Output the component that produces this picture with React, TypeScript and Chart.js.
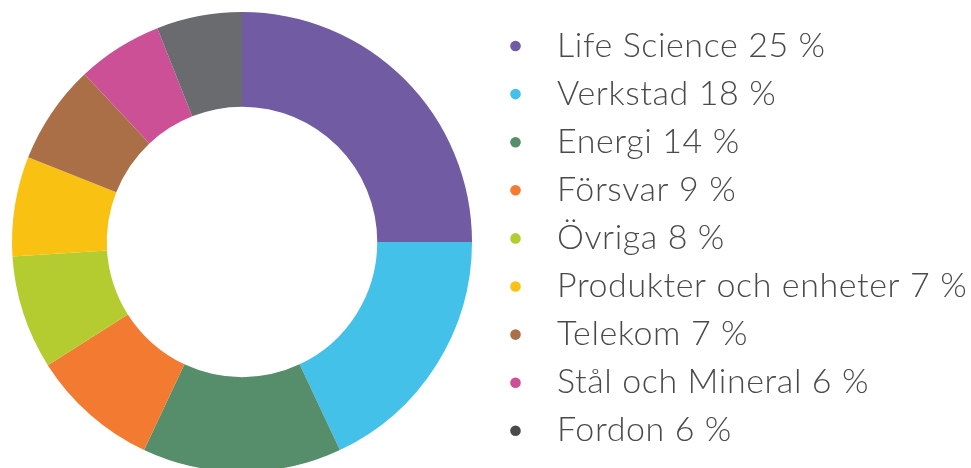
import React, { useEffect, useRef } from "react";
import { Chart, registerables } from "chart.js";

Chart.register(...registerables);

const categories = [
  "Life Science",
  "Verkstad",
  "Energi",
  "Försvar",
  "Övriga",
  "Produkter och enheter",
  "Telekom",
  "Stål och Mineral",
  "Fordon",
];
const shares = [25, 18, 14, 9, 8, 7, 7, 6, 6];
const sliceColors = [
  "#715ba3",
  "#43c1e9",
  "#568d6a",
  "#f27a31",
  "#b5cc31",
  "#f9c112",
  "#ab6f47",
  "#cb5096",
  "#6a6b6f",
];
const dotColors = [
  "#715ba3",
  "#43c1e9",
  "#568d6a",
  "#f27a31",
  "#b5cc31",
  "#f9c112",
  "#ab6f47",
  "#cb5096",
  "#4a4a4a",
];

const legendPlugin = {
  id: "sideLegend",
  afterDraw(chart: any) {
    const ctx = chart.ctx;
    const labels = chart.data.labels as string[];
    const values = chart.data.datasets[0].data as number[];
    ctx.save();
    ctx.font = '300 34px Lato, "Noto Sans", sans-serif';
    try {
      (ctx as any).letterSpacing = "0.6px";
    } catch (e) {}
    ctx.textBaseline = "alphabetic";
    ctx.textAlign = "left";
    labels.forEach((lab, i) => {
      const y = 46 + i * 48.1;
      ctx.fillStyle = dotColors[i];
      ctx.beginPath();
      ctx.arc(515.5, y, 5.3, 0, Math.PI * 2);
      ctx.fill();
      ctx.fillStyle = "#4a4a4a";
      ctx.fillText(`${lab} ${values[i]} %`, 557, y + 10.5);
    });
    ctx.restore();
  },
};

export default function App() {
  const ref = useRef<HTMLCanvasElement | null>(null);
  useEffect(() => {
    if (!ref.current) return;
    const chart = new Chart(ref.current, {
      type: "doughnut",
      data: {
        labels: categories,
        datasets: [
          {
            data: shares,
            backgroundColor: sliceColors,
            borderWidth: 0,
          },
        ],
      },
      options: {
        responsive: false,
        animation: false,
        cutout: "58.8%",
        layout: { padding: { left: 12, top: 12, right: 499, bottom: 8 } },
        plugins: {
          legend: { display: false },
          tooltip: { enabled: false },
        },
      },
      plugins: [legendPlugin],
    });
    return () => chart.destroy();
  }, []);
  return (
    <div
      style={{
        position: "fixed",
        left: 0,
        top: 0,
        width: 971,
        height: 468,
        overflow: "hidden",
        background: "#fff",
      }}
    >
      <canvas ref={ref} width={971} height={480} style={{ display: "block" }} />
    </div>
  );
}
